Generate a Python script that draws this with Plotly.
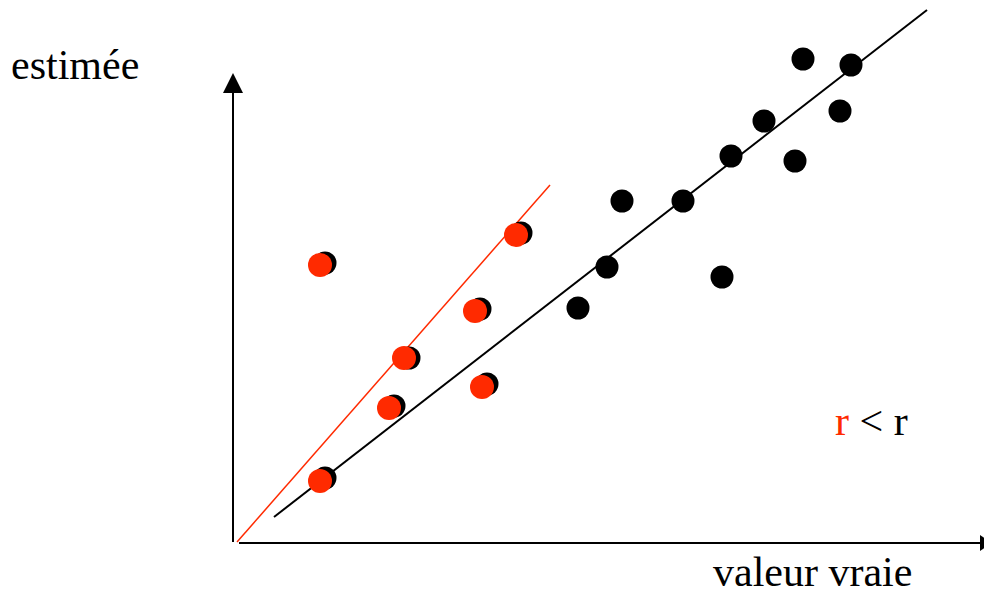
import plotly.graph_objects as go

# Coordinates: origin at the axes' corner, units ~ pixels of the reference
black_x = [92, 161, 176, 254, 247, 288, 92, 345, 374, 389, 450, 489, 498, 531, 562, 570, 607, 618]
black_y = [65, 137, 185, 159, 234, 310, 280, 235, 276, 342, 342, 266, 387, 422, 382, 484, 432, 478]
red_x = [87, 156, 171, 249, 242, 283, 87]
red_y = [62, 135, 185, 156, 232, 308, 278]
black_line_x = [41, 694]
black_line_y = [26, 533]
red_line_x = [4, 317]
red_line_y = [1, 358]

fig = go.Figure()
fig.add_trace(go.Scatter(x=black_line_x, y=black_line_y, mode="lines",
                         line=dict(color="black", width=2), showlegend=False))
fig.add_trace(go.Scatter(x=red_line_x, y=red_line_y, mode="lines",
                         line=dict(color="#ff2a00", width=1.5), showlegend=False))
fig.add_trace(go.Scatter(x=black_x, y=black_y, mode="markers",
                         marker=dict(color="black", size=23, line=dict(width=0)), showlegend=False))
fig.add_trace(go.Scatter(x=red_x, y=red_y, mode="markers",
                         marker=dict(color="#ff2a00", size=24, line=dict(width=0)), showlegend=False))

# axes with arrows
fig.add_shape(type="line", x0=0, y0=1, x1=0, y1=455, line=dict(color="black", width=2))
fig.add_shape(type="path", path="M -10 450 L 10 450 L 0 470 Z", fillcolor="black", line=dict(width=0))
fig.add_shape(type="line", x0=6, y0=0, x1=750, y1=0, line=dict(color="black", width=2))
fig.add_shape(type="path", path="M 747 8 L 747 -8 L 759 0 Z", fillcolor="black", line=dict(width=0))

font = dict(family="Liberation Serif, Times New Roman, serif", size=42, color="black")
fig.add_annotation(x=-158, y=478, text="estimée", showarrow=False, font=font, xanchor="center", yanchor="middle")
fig.add_annotation(x=579, y=-29, text="valeur vraie", showarrow=False, font=font, xanchor="center", yanchor="middle")
fig.add_annotation(x=638, y=122, text="<span style='color:#ff2a00'>r</span> &lt; r", showarrow=False,
                   font=font, xanchor="center", yanchor="middle")

fig.update_layout(
    width=984, height=587,
    margin=dict(l=0, r=0, t=0, b=0),
    paper_bgcolor="white", plot_bgcolor="white",
    xaxis=dict(range=[-225, 759], visible=False, fixedrange=True),
    yaxis=dict(range=[-52, 535], visible=False, fixedrange=True),
)
fig.write_html("out.html")
